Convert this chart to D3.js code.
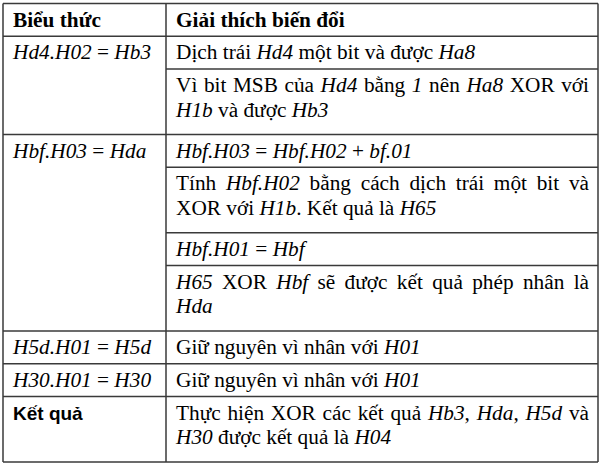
<!DOCTYPE html>
<html>
<head>
<meta charset="utf-8">
<script src="https://cdn.jsdelivr.net/npm/d3@7"></script>
<style>
  body { margin: 0; background: #fff; }
  svg { display: block; }
</style>
</head>
<body>
<svg id="chart" width="602" height="467"></svg>
<script>
"use strict";

// table content: _text_ marks italic runs
var headers = ["Biểu thức", "Giải thích biến đổi"];

var expressions = ["_Hd4.H02_ = _Hb3_", "_Hbf.H03_ = _Hda_", "_H5d.H01_ = _H5d_", "_H30.H01_ = _H30_", "Kết quả"];

// explanation paragraphs per expression, each paragraph is a list of lines
var explanations = [
  [["Dịch trái _Hd4_ một bit và được _Ha8_"],
   ["Vì bit MSB của _Hd4_ bằng _1_ nên _Ha8_ XOR với", "_H1b_ và được _Hb3_"]],
  [["_Hbf.H03_ = _Hbf.H02_ + _bf.01_"],
   ["Tính _Hbf.H02_ bằng cách dịch trái một bit và", "XOR với _H1b_. Kết quả là _H65_"],
   ["_Hbf.H01_ = _Hbf_"],
   ["_H65_ XOR _Hbf_ sẽ được kết quả phép nhân là", "_Hda_"]],
  [["Giữ nguyên vì nhân với _H01_"]],
  [["Giữ nguyên vì nhân với _H01_"]],
  [["Thực hiện XOR các kết quả _Hb3_, _Hda_, _H5d_ và", "_H30_ được kết quả là _H04_"]]
];

var serif = "'Liberation Serif', 'Times New Roman', serif";
var sans = "'Liberation Sans', Arial, sans-serif";
var fontSize = 21.3;
var lineGap = 24.5;
var firstBase = 23;

var svg = d3.select("#chart");

// count lines to build a vertical scale
var totalLines = 1 + d3.sum(explanations, function (paras) {
  return d3.sum(paras, function (p) { return p.length; });
});
var y = d3.scaleLinear().domain([0, totalLines]).range([3.5, 462]);
var x = d3.scaleOrdinal().domain(["left", "mid", "right"]).range([3, 166, 598]);

// measuring helper
var probe = svg.append("text");
function segments(str) {
  var out = [], re = /_([^_]+)_|([^_]+)/g, m;
  while ((m = re.exec(str))) {
    out.push(m[1] !== undefined ? { t: m[1], i: true } : { t: m[2], i: false });
  }
  return out;
}
function styleText(t, font) {
  t.style("font-family", font.family)
    .style("font-size", font.size + "px")
    .style("font-weight", font.weight);
}
function measure(word, font) {
  styleText(probe, font);
  probe.selectAll("tspan").remove();
  segments(word).forEach(function (s) {
    probe.append("tspan").style("font-style", s.i ? "italic" : "normal").text(s.t);
  });
  return probe.node().getComputedTextLength();
}

// draw one line of words, justified or not
function drawLine(g, line, x0, x1, base, justify, font) {
  var words = line.split(" ");
  var widths = words.map(function (w) { return measure(w, font); });
  var gap = measure("a a", font) - measure("aa", font);
  if (justify && words.length > 1) {
    gap = (x1 - x0 - d3.sum(widths)) / (words.length - 1);
  }
  var cx = x0;
  words.forEach(function (w, k) {
    var t = g.append("text")
      .attr("x", cx).attr("y", base)
      .attr("fill", "#000");
    styleText(t, font);
    segments(w).forEach(function (s) {
      t.append("tspan").style("font-style", s.i ? "italic" : "normal").text(s.t);
    });
    cx += widths[k] + gap;
  });
}

var bodyFont = { family: serif, size: fontSize, weight: "normal" };
var headFont = { family: serif, size: fontSize, weight: "bold" };
var totalFont = { family: sans, size: 19, weight: "bold" };

var grid = svg.append("g").attr("class", "grid");
var body = svg.append("g").attr("class", "body");
var padL = 10, padR = 9;

// header
headers.forEach(function (h, k) {
  var x0 = k === 0 ? x("left") : x("mid");
  drawLine(body, h, x0 + padL, x0 + padL, y(0) + firstBase, false, headFont);
});
grid.append("line").attr("x1", x("left")).attr("x2", x("right")).attr("y1", y(1)).attr("y2", y(1));

var row = 1;
expressions.forEach(function (expr, r) {
  var isTotal = r === expressions.length - 1;
  drawLine(body, expr, x("left") + padL, x("left") + padL, y(row) + firstBase, false,
    isTotal ? totalFont : bodyFont);
  explanations[r].forEach(function (para, p) {
    var top = row;
    para.forEach(function (ln, k) {
      drawLine(body, ln, x("mid") + padL, x("right") - padR, y(top) + firstBase + k * lineGap,
        k < para.length - 1, bodyFont);
    });
    row += para.length;
    var full = p === explanations[r].length - 1;
    grid.append("line")
      .attr("x1", full ? x("left") : x("mid")).attr("x2", x("right"))
      .attr("y1", y(row)).attr("y2", y(row));
  });
});
probe.remove();

// outer frame and column divider
grid.append("line").attr("x1", x("left")).attr("x2", x("right")).attr("y1", y(0)).attr("y2", y(0));
["left", "mid", "right"].forEach(function (c) {
  grid.append("line").attr("x1", x(c)).attr("x2", x(c)).attr("y1", y(0)).attr("y2", y(totalLines));
});
grid.selectAll("line").attr("stroke", "#3a3a3a").attr("stroke-width", 1.5);
</script>
</body>
</html>
